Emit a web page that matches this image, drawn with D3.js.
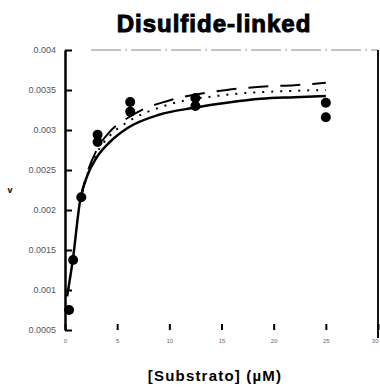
<!DOCTYPE html>
<html>
<head>
<meta charset="utf-8">
<script src="https://cdn.jsdelivr.net/npm/d3@7"></script>
<style>
  body { margin: 0; background: #fff; }
  svg { display: block; }
</style>
</head>
<body>
<script>
// measured points (substrate uM, rate)
const pointX = [0.39, 0.78, 1.56, 3.125, 3.125, 6.25, 6.25, 12.5, 12.5, 25, 25];
const pointY = [0.00075, 0.001375, 0.00216, 0.00294, 0.00285, 0.00335, 0.00323, 0.0034, 0.0033, 0.00334, 0.00316];

// fitted curves
const solidX = [0.2, 0.75, 1.45, 2.2, 3, 4.3, 6, 9, 12.25, 15.5, 18.75, 22, 25];
const solidY = [0.00092, 0.00138, 0.00212, 0.00245, 0.00265, 0.00285, 0.003025, 0.00319, 0.003275, 0.00334, 0.00339, 0.00341, 0.003425];
const dottedX = [1.45, 2.2, 3, 4.3, 6, 9.5, 15.5, 22, 25];
const dottedY = [0.00212, 0.00247, 0.00270, 0.00293, 0.0031, 0.0033, 0.00344, 0.00349, 0.0035];
const dashedX = [1.45, 2.2, 3, 4.3, 6, 7.5, 9.75, 15.5, 18.75, 22, 25];
const dashedY = [0.00212, 0.00249, 0.00274, 0.00298, 0.00315, 0.00326, 0.00336, 0.0035, 0.00354, 0.00356, 0.00359];

const xTicks = [0, 5, 10, 15, 20, 25, 30];
const yTicks = [0.0005, 0.001, 0.0015, 0.002, 0.0025, 0.003, 0.0035, 0.004];

const width = 380, height = 389;
const svg = d3.select("body").append("svg")
  .attr("width", width).attr("height", height);

const x = d3.scaleLinear().domain([0, 30]).range([65, 378]);
const y = d3.scaleLinear().domain([0.0005, 0.004]).range([330, 50]);

// title
svg.append("text")
  .attr("x", 214).attr("y", 32)
  .attr("text-anchor", "middle")
  .style("font-family", "Liberation Sans, Arial, sans-serif")
  .style("font-weight", "bold").style("font-size", "24px")
  .style("letter-spacing", "1px")
  .attr("stroke", "#000").attr("stroke-width", 1)
  .text("Disulfide-linked");

// top frame line (faint)
svg.append("line")
  .attr("x1", x(2.5)).attr("x2", x(30)).attr("y1", y(0.004)).attr("y2", y(0.004))
  .attr("stroke", "#888").attr("stroke-width", 1).attr("stroke-dasharray", "30,4,2,4");

// right frame line
svg.append("line")
  .attr("x1", x(30)).attr("x2", x(30)).attr("y1", y(0.004)).attr("y2", y(0.0005) + 8)
  .attr("stroke", "#111").attr("stroke-width", 2);

// y axis
const yAxis = svg.append("g").attr("transform", `translate(${x(0)},0)`)
  .call(d3.axisLeft(y).tickValues(yTicks).tickSize(-7).tickSizeOuter(0).tickPadding(9)
    .tickFormat(d3.format("")));
yAxis.select(".domain").attr("stroke-width", 2.5);
yAxis.selectAll(".tick line").attr("stroke-width", 2);
yAxis.selectAll("text")
  .style("font-family", "Liberation Sans, Arial, sans-serif")
  .style("font-size", "9px").attr("fill", "#555");

// x axis (ticks only)
const xAxis = svg.append("g").attr("transform", `translate(0,${y(0.0005)})`)
  .call(d3.axisBottom(x).tickValues(xTicks).tickSize(-6).tickPadding(9));
xAxis.select(".domain").remove();
xAxis.selectAll(".tick line").attr("stroke-width", 2);
xAxis.selectAll("text")
  .style("font-family", "Liberation Sans, Arial, sans-serif")
  .style("font-size", "6px").attr("fill", "#666")
  .attr("text-anchor", d => d === 30 ? "end" : "middle");

// y label (tiny)
svg.append("text")
  .attr("x", 10).attr("y", 193)
  .attr("text-anchor", "middle")
  .style("font-family", "Liberation Sans, Arial, sans-serif")
  .style("font-weight", "bold").style("font-size", "9px")
  .text("v");

// x label
svg.append("text")
  .attr("x", 215).attr("y", 381)
  .attr("text-anchor", "middle")
  .style("font-family", "Liberation Sans, Arial, sans-serif")
  .style("font-weight", "bold").style("font-size", "15px")
  .style("letter-spacing", "1.2px")
  .text("[Substrato] (\u00b5M)");

const line = d3.line().x(d => x(d[0])).y(d => y(d[1])).curve(d3.curveMonotoneX);

svg.append("path")
  .attr("d", line(d3.zip(dashedX, dashedY)))
  .attr("fill", "none").attr("stroke", "#000").attr("stroke-width", 2)
  .attr("stroke-dasharray", "20,12");

svg.append("path")
  .attr("d", line(d3.zip(dottedX, dottedY)))
  .attr("fill", "none").attr("stroke", "#000").attr("stroke-width", 2)
  .attr("stroke-dasharray", "2,7");

svg.append("path")
  .attr("d", line(d3.zip(solidX, solidY)))
  .attr("fill", "none").attr("stroke", "#000").attr("stroke-width", 2.5);

svg.selectAll("circle.pt")
  .data(d3.zip(pointX, pointY))
  .enter().append("circle")
  .attr("class", "pt")
  .attr("cx", d => x(d[0])).attr("cy", d => y(d[1]))
  .attr("r", 5).attr("fill", "#000");
</script>
</body>
</html>
